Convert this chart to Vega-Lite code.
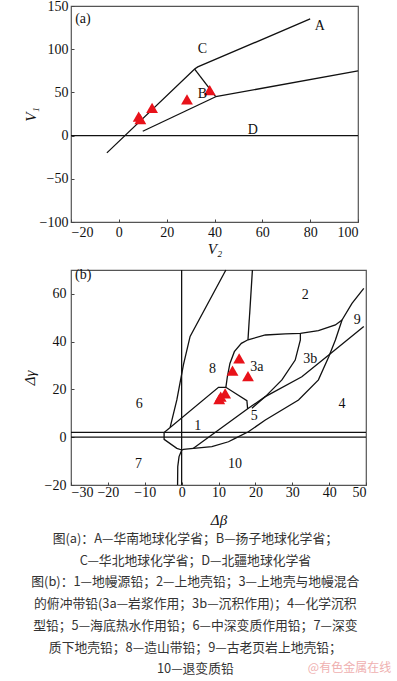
{
  "$schema": "https://vega.github.io/schema/vega-lite/v6.json",
  "padding": {"left": 21, "top": -2, "right": 5, "bottom": 2},
  "background": "white",
  "config": {
    "view": {"stroke": "#555", "strokeWidth": 1.2},
    "axis": {"grid": false, "domain": false, "tickSize": -3, "tickColor": "#444", "labelFont": "Liberation Serif", "labelFontSize": 14, "labelColor": "#111", "titleFont": "Liberation Serif", "titleFontSize": 15, "titleFontStyle": "italic", "titleFontWeight": "normal", "titleColor": "#111"},
    "text": {"font": "Liberation Serif", "fontSize": 14, "color": "#111"}
  },
  "spacing": 9,
  "title": {"text": "@有色金属在线", "orient": "bottom", "anchor": "end", "font": "Noto Sans CJK SC", "fontSize": 12, "color": "#efb0b0", "fontWeight": "normal", "offset": -14, "dx": 22},
  "vconcat": [
    {
      "width": 287,
      "height": 216,
      "encoding": {
        "x": {"field": "x", "type": "quantitative", "scale": {"domain": [-20, 100], "nice": false, "zero": false}, "axis": {"values": [-20, 0, 20, 40, 60, 80, 100], "title": "V₂", "labelFont": "Liberation Serif", "labelPadding": 6, "titlePadding": 2}},
        "y": {"field": "y", "type": "quantitative", "scale": {"domain": [-100, 150], "nice": false, "zero": false}, "axis": {"values": [-100, -50, 0, 50, 100, 150], "title": "V₁", "labelFont": "Liberation Serif", "labelPadding": 6, "titlePadding": 1}}
      },
      "layer": [
        {
          "data": {"values": [
            {"seg": "s1", "i": 1, "x": -5, "y": -20},
            {"seg": "s1", "i": 2, "x": 31.7, "y": 77},
            {"seg": "s1", "i": 3, "x": 33, "y": 79.5},
            {"seg": "s1", "i": 4, "x": 80, "y": 135},
            {"seg": "s2", "i": 1, "x": 31.7, "y": 77},
            {"seg": "s2", "i": 2, "x": 40.5, "y": 45},
            {"seg": "s3", "i": 1, "x": 40.5, "y": 45},
            {"seg": "s3", "i": 2, "x": 100, "y": 75},
            {"seg": "s4", "i": 1, "x": 10, "y": 5},
            {"seg": "s4", "i": 2, "x": 40.5, "y": 45},
            {"seg": "s5", "i": 1, "x": -20, "y": 0},
            {"seg": "s5", "i": 2, "x": 100, "y": 0}
          ]},
          "mark": {"type": "line", "color": "#111", "strokeWidth": 1.3},
          "encoding": {"detail": {"field": "seg"}, "order": {"field": "i", "type": "quantitative"}}
        },
        {
          "data": {"values": [
            {"x": 8.3, "y": 22},
            {"x": 9, "y": 19},
            {"x": 13.9, "y": 32},
            {"x": 28.5, "y": 42},
            {"x": 38, "y": 52.5}
          ]},
          "mark": {"type": "point", "shape": "triangle-up", "filled": true, "color": "#e8121a", "opacity": 1, "size": 140}
        },
        {
          "data": {"values": [
            {"x": -15, "y": 135, "t": "(a)"},
            {"x": 84, "y": 127, "t": "A"},
            {"x": 35, "y": 100, "t": "C"},
            {"x": 35, "y": 48, "t": "B"},
            {"x": 56, "y": 6, "t": "D"}
          ]},
          "mark": {"type": "text", "font": "Liberation Serif", "fontSize": 14},
          "encoding": {"text": {"field": "t"}}
        }
      ]
    },
    {
      "width": 295,
      "height": 215,
      "title": {
        "text": [
          "图(a)：A—华南地球化学省；B—扬子地球化学省；",
          "C—华北地球化学省；D—北疆地球化学省",
          "图(b)：1—地幔源铅；2—上地壳铅；3—上地壳与地幔混合",
          "的俯冲带铅(3a—岩浆作用；3b—沉积作用)；4—化学沉积",
          "型铅；5—海底热水作用铅；6—中深变质作用铅；7—深变",
          "质下地壳铅；8—造山带铅；9—古老页岩上地壳铅；",
          "10—退变质铅"
        ],
        "orient": "bottom", "anchor": "middle", "frame": "bounds",
        "font": "Noto Sans CJK SC", "fontSize": 12.8, "fontWeight": "normal", "color": "#333", "lineHeight": 21.7, "offset": 6
      },
      "encoding": {
        "x": {"field": "x", "type": "quantitative", "scale": {"domain": [-30, 50], "nice": false, "zero": false}, "axis": {"values": [-30, -20, -10, 0, 10, 20, 30, 40, 50], "title": "Δβ", "labelFont": "Liberation Serif", "labelPadding": 3, "titlePadding": 13}},
        "y": {"field": "y", "type": "quantitative", "scale": {"domain": [-20, 70], "nice": false, "zero": false}, "axis": {"values": [-20, 0, 20, 40, 60], "title": "Δγ", "labelFont": "Liberation Serif", "labelPadding": 8, "titlePadding": 7}}
      },
      "layer": [
        {
          "data": {"values": [
            {"seg": "h0", "i": 1, "x": -30, "y": 0},
            {"seg": "h0", "i": 2, "x": 50, "y": 0},
            {"seg": "h2", "i": 1, "x": -30, "y": 2},
            {"seg": "h2", "i": 2, "x": 50, "y": 2},
            {"seg": "v0", "i": 1, "x": 0, "y": -20},
            {"seg": "v0", "i": 2, "x": 0, "y": 70},
            {"seg": "L", "i": 1, "x": -3.1, "y": 4.2},
            {"seg": "L", "i": 2, "x": -1.3, "y": 15.6},
            {"seg": "L", "i": 3, "x": -0.7, "y": 20.6},
            {"seg": "L", "i": 4, "x": 0.5, "y": 30.4},
            {"seg": "L", "i": 5, "x": 2.3, "y": 42.2},
            {"seg": "L", "i": 6, "x": 12, "y": 70},
            {"seg": "MV", "i": 1, "x": 19.2, "y": 70},
            {"seg": "MV", "i": 2, "x": 18, "y": 40.8},
            {"seg": "R", "i": 1, "x": 12, "y": 20.9},
            {"seg": "R", "i": 2, "x": 12.4, "y": 25.3},
            {"seg": "R", "i": 3, "x": 13.1, "y": 30.9},
            {"seg": "R", "i": 4, "x": 14.3, "y": 35.8},
            {"seg": "R", "i": 5, "x": 16.2, "y": 39.3},
            {"seg": "R", "i": 6, "x": 18, "y": 40.8},
            {"seg": "R", "i": 7, "x": 22.7, "y": 42.8},
            {"seg": "R", "i": 8, "x": 28.1, "y": 43.3},
            {"seg": "R", "i": 9, "x": 32.2, "y": 43.5},
            {"seg": "R", "i": 10, "x": 37.1, "y": 44.6},
            {"seg": "R", "i": 11, "x": 41.7, "y": 47},
            {"seg": "R", "i": 12, "x": 43.5, "y": 49.1},
            {"seg": "D3", "i": 1, "x": 32.2, "y": 43.5},
            {"seg": "D3", "i": 2, "x": 32.2, "y": 40.7},
            {"seg": "D3", "i": 3, "x": 30.8, "y": 32.3},
            {"seg": "D3", "i": 4, "x": 27.2, "y": 24},
            {"seg": "D3", "i": 5, "x": 22.7, "y": 17},
            {"seg": "D3", "i": 6, "x": 19.05, "y": 12.1},
            {"seg": "R1", "i": 1, "x": 0.05, "y": -5.35},
            {"seg": "R1", "i": 2, "x": -1.3, "y": -4.65},
            {"seg": "R1", "i": 3, "x": -4.75, "y": -0.9},
            {"seg": "R1", "i": 4, "x": -4.75, "y": 2},
            {"seg": "R1", "i": 5, "x": 10, "y": 20.9},
            {"seg": "R1", "i": 6, "x": 12, "y": 20.9},
            {"seg": "R1", "i": 7, "x": 17.7, "y": 15.3},
            {"seg": "R1", "i": 8, "x": 17.9, "y": 11.8},
            {"seg": "DC", "i": 1, "x": 0.05, "y": -5.35},
            {"seg": "DC", "i": 2, "x": -0.7, "y": -8.1},
            {"seg": "DC", "i": 3, "x": -1.05, "y": -12.3},
            {"seg": "DC", "i": 4, "x": -1.1, "y": -20},
            {"seg": "B4", "i": 1, "x": 0.05, "y": -5.35},
            {"seg": "B4", "i": 2, "x": 0.5, "y": -5.1},
            {"seg": "B4", "i": 3, "x": 3.2, "y": -4.65},
            {"seg": "B4", "i": 4, "x": 8.2, "y": -3.95},
            {"seg": "B4", "i": 5, "x": 12.7, "y": -1.9},
            {"seg": "B4", "i": 6, "x": 14.5, "y": -0.47},
            {"seg": "B4", "i": 7, "x": 18.1, "y": 2.3},
            {"seg": "B4", "i": 8, "x": 22.7, "y": 7.2},
            {"seg": "B4", "i": 9, "x": 31.7, "y": 15.6},
            {"seg": "B4", "i": 10, "x": 37.1, "y": 24},
            {"seg": "B4", "i": 11, "x": 39.9, "y": 33.7},
            {"seg": "B4", "i": 12, "x": 41.7, "y": 40.7},
            {"seg": "B4", "i": 13, "x": 43.5, "y": 49.1},
            {"seg": "B4", "i": 14, "x": 46.2, "y": 56},
            {"seg": "B4", "i": 15, "x": 49.4, "y": 62.3},
            {"seg": "L9", "i": 1, "x": 3.2, "y": -4.65},
            {"seg": "L9", "i": 2, "x": 10, "y": 3},
            {"seg": "L9", "i": 3, "x": 18.1, "y": 12.1},
            {"seg": "L9", "i": 4, "x": 22.7, "y": 17},
            {"seg": "L9", "i": 5, "x": 32.6, "y": 25.3},
            {"seg": "L9", "i": 6, "x": 39.9, "y": 34.4},
            {"seg": "L9", "i": 7, "x": 49.4, "y": 46.3}
          ]},
          "mark": {"type": "line", "color": "#111", "strokeWidth": 1.3},
          "encoding": {"detail": {"field": "seg"}, "order": {"field": "i", "type": "quantitative"}}
        },
        {
          "data": {"values": [
            {"x": 15.6, "y": 33},
            {"x": 13.8, "y": 27.9},
            {"x": 18, "y": 25.6},
            {"x": 11.8, "y": 18.4},
            {"x": 10.6, "y": 17},
            {"x": 10.2, "y": 15.9}
          ]},
          "mark": {"type": "point", "shape": "triangle-up", "filled": true, "color": "#e8121a", "opacity": 1, "size": 140}
        },
        {
          "data": {"values": [
            {"x": -26.7, "y": 67.9, "t": "(b)"},
            {"x": 33.5, "y": 59.5, "t": "2"},
            {"x": 47.6, "y": 49.1, "t": "9"},
            {"x": 34.9, "y": 32.6, "t": "3b"},
            {"x": 20.4, "y": 29.5, "t": "3a"},
            {"x": 8.4, "y": 28.4, "t": "8"},
            {"x": -11.5, "y": 13.9, "t": "6"},
            {"x": 43.5, "y": 13.9, "t": "4"},
            {"x": 4.4, "y": 4.8, "t": "1"},
            {"x": 19.7, "y": 9, "t": "5"},
            {"x": -11.7, "y": -11.2, "t": "7"},
            {"x": 14.5, "y": -11.2, "t": "10"}
          ]},
          "mark": {"type": "text", "font": "Liberation Serif", "fontSize": 14},
          "encoding": {"text": {"field": "t"}}
        }
      ]
    }
  ]
}
